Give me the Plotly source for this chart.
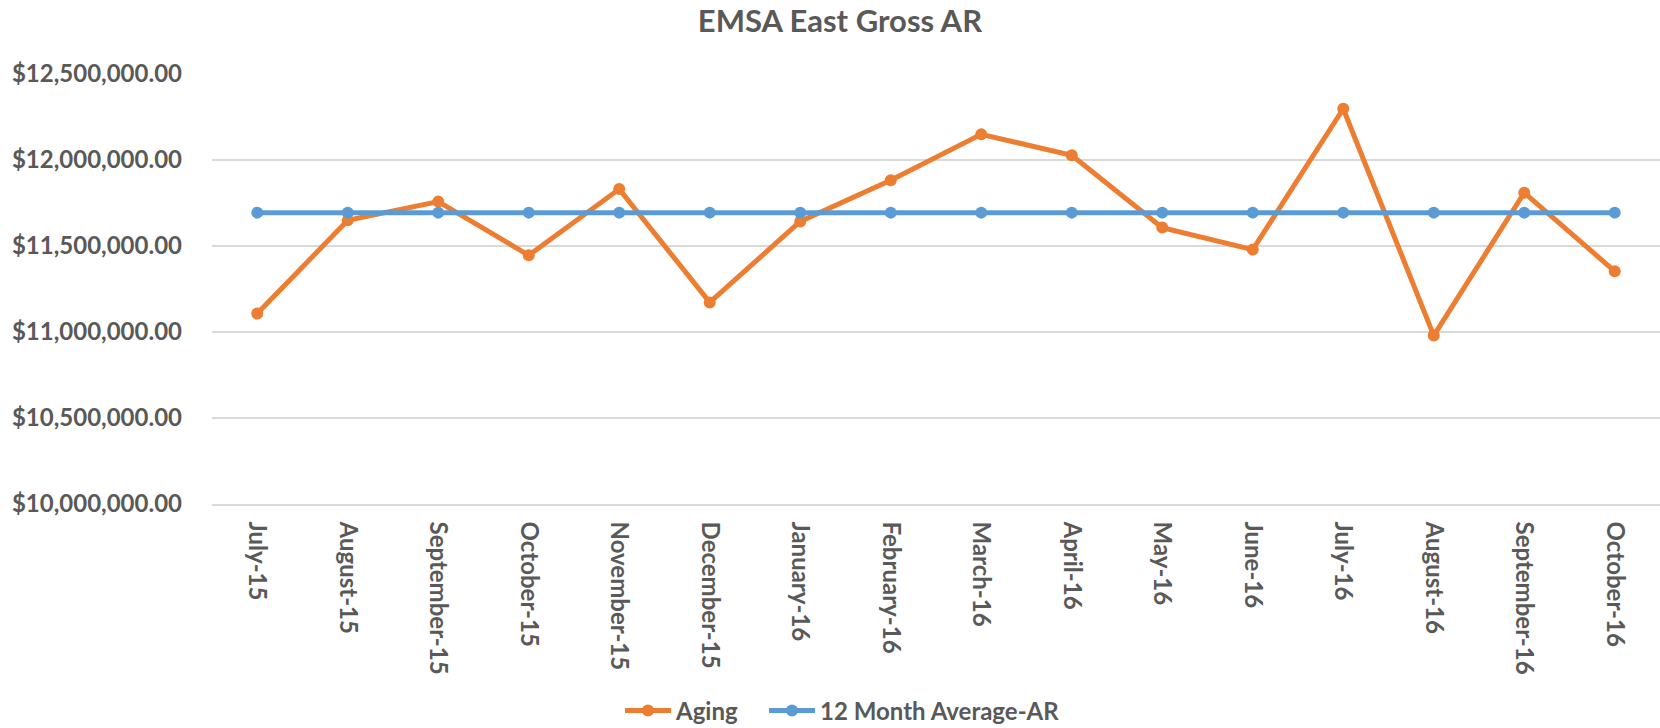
import plotly.graph_objects as go

months = ["July-15", "August-15", "September-15", "October-15", "November-15",
          "December-15", "January-16", "February-16", "March-16", "April-16",
          "May-16", "June-16", "July-16", "August-16", "September-16", "October-16"]
aging = [11107000, 11649000, 11758000, 11446000, 11831000, 11172000, 11643000,
         11882000, 12149000, 12027000, 11607000, 11479000, 12298000, 10979000,
         11810000, 11353000]
avg_ar = [11694000] * 16

ORANGE = "#ED7D31"
BLUE = "#5B9BD5"
TEXT = "#595959"
GRID = "#D9D9D9"
FONT = "Lato"

fig = go.Figure()
fig.add_trace(go.Scatter(x=months, y=aging, mode="lines+markers", name="Aging",
                         line=dict(color=ORANGE, width=5),
                         marker=dict(color=ORANGE, size=12), legend="legend"))
fig.add_trace(go.Scatter(x=months, y=avg_ar, mode="lines+markers", name="12 Month Average-AR",
                         line=dict(color=BLUE, width=5),
                         marker=dict(color=BLUE, size=12), legend="legend2"))

legend_common = dict(orientation="h", xanchor="left",
                     y=-(711 - 504) / 430, yanchor="middle",
                     font=dict(family=FONT, size=24, color=TEXT, weight="bold"),
                     itemwidth=46, tracegroupgap=0)

fig.update_layout(
    width=1660, height=728,
    margin=dict(l=212, r=0, t=74, b=224, autoexpand=False),
    paper_bgcolor="white", plot_bgcolor="white",
    title=dict(text="EMSA East Gross AR", x=0.506, xanchor="center",
               y=1 - 21.5 / 728, yref="container", yanchor="middle",
               font=dict(family=FONT, size=31, color=TEXT, weight="bold")),
    showlegend=True,
    legend=dict(x=(620 - 212) / 1448, **legend_common),
    legend2=dict(x=(764 - 212) / 1448, **legend_common),
    xaxis=dict(type="category", range=[-0.5, 15.5], tickangle=90,
               showgrid=False, showline=True, linecolor=GRID, linewidth=1.5,
               ticks="", ticklabelstandoff=11,
               tickfont=dict(family=FONT, size=24, color=TEXT, weight="bold")),
    yaxis=dict(range=[10000000, 12500000], dtick=500000, tickformat="$,.2f",
               showgrid=True, gridcolor=GRID, gridwidth=1.5, zeroline=False,
               ticks="", ticklabelstandoff=29,
               tickfont=dict(family=FONT, size=24, color=TEXT, weight="bold")),
)

fig.write_html("out.html", config={"displayModeBar": False},
               post_script="document.body.style.margin='0';")
